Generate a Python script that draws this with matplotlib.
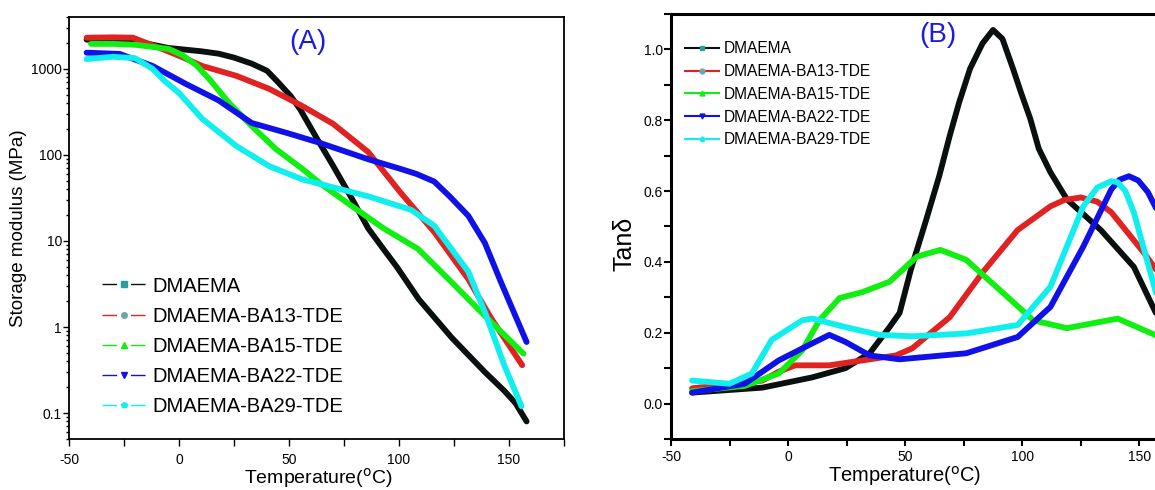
import numpy as np
import matplotlib
matplotlib.use("Agg")
import matplotlib.pyplot as plt
from matplotlib.lines import Line2D
from matplotlib.ticker import MultipleLocator, FixedLocator, FuncFormatter, LogLocator

plt.rcParams['font.family'] = ['Liberation Sans Narrow', 'Liberation Sans', 'DejaVu Sans']
plt.rcParams['axes.unicode_minus'] = False

names = ['DMAEMA', 'DMAEMA-BA13-TDE', 'DMAEMA-BA15-TDE', 'DMAEMA-BA22-TDE', 'DMAEMA-BA29-TDE']
colors = ['#0a0f0f', '#e02222', '#11ee11', '#1010e8', '#11eeee']
mk_left = ['s', 'o', '^', 'v', 'p']
mk_face = ['#2a9d9d', '#6fa5a5', '#11ee11', '#1010e8', '#11eeee']

# (A) storage modulus, MPa
t_dm = [-42, -30, -20, -5, 10, 18, 25, 33, 40, 45, 50.7, 55, 63, 70, 78, 86, 93, 99, 109, 124, 139, 148, 153, 158]
e_dm = [2180, 2150, 2100, 1750, 1600, 1500, 1350, 1150, 950, 700, 485, 340, 150, 75, 33, 14, 8, 5.0, 2.1, 0.75, 0.30, 0.18, 0.13, 0.08]
t_13 = [-42, -30, -21, -7.6, 2, 10.5, 26, 41, 56, 70, 86, 100.5, 116, 131.5, 142, 156]
e_13 = [2300, 2320, 2300, 1700, 1350, 1080, 830, 585, 370, 230, 108, 37, 12.7, 3.6, 1.25, 0.36]
t_15 = [-40, -30, -19.6, -4.6, 1.4, 7.9, 13.7, 22.8, 33, 44, 56, 64, 78, 93, 108.6, 124, 139, 156.6]
e_15 = [1950, 1950, 1900, 1700, 1450, 1100, 765, 400, 217, 117, 69, 47, 26, 14, 8.1, 3.3, 1.35, 0.49]
t_22 = [-42, -27, -12, 3, 18, 33, 49, 64, 86, 100.5, 108, 116, 123, 131.5, 139, 146.6, 158]
e_22 = [1540, 1490, 1080, 670, 430, 235, 180, 138, 89, 69, 60, 49, 33, 19.6, 9.5, 3.2, 0.67]
t_29 = [-42, -30, -20, -12, -6.6, 0, 10.5, 26, 41, 56, 64, 86, 105.5, 116, 131.5, 139, 148, 155.7]
e_29 = [1300, 1380, 1330, 1000, 725, 525, 263, 127, 74, 52, 46, 33, 23, 15, 4.4, 1.5, 0.35, 0.12]

# (B) tan delta
s_dm = [-41, -11, 10.3, 24.5, 34.8, 43.3, 47.6, 52.4, 59, 64.5, 69, 73, 77.7, 83, 87.5, 91.5, 96, 99.6, 103.4, 107, 112, 119, 133.5, 147.6, 157]
d_dm = [0.031, 0.045, 0.074, 0.10, 0.142, 0.216, 0.256, 0.378, 0.52, 0.642, 0.756, 0.85, 0.946, 1.017, 1.055, 1.03, 0.946, 0.875, 0.804, 0.72, 0.653, 0.577, 0.49, 0.386, 0.256]
s_13 = [-41, -11, -4, 3, 17.6, 31.8, 46, 53, 69, 83, 98, 112, 118, 125, 132, 138, 152, 158]
d_13 = [0.043, 0.065, 0.09, 0.108, 0.108, 0.122, 0.136, 0.156, 0.244, 0.37, 0.49, 0.557, 0.575, 0.582, 0.57, 0.54, 0.425, 0.37]
s_15 = [-41, -18.5, -4, 6, 13.3, 22, 31.8, 43.3, 55, 65, 76, 90.5, 104.7, 119, 140.7, 158]
d_15 = [0.035, 0.05, 0.085, 0.15, 0.235, 0.298, 0.315, 0.344, 0.415, 0.434, 0.406, 0.32, 0.235, 0.213, 0.24, 0.19]
s_22 = [-41, -18.5, -4, 10.3, 17.6, 24.5, 34.8, 47.6, 76, 98, 112, 126, 138, 141.5, 145.5, 149.5, 153.6, 158]
d_22 = [0.031, 0.056, 0.122, 0.17, 0.194, 0.174, 0.136, 0.125, 0.142, 0.188, 0.273, 0.443, 0.605, 0.632, 0.642, 0.63, 0.597, 0.54]
s_29 = [-41, -25, -15.5, -7, 6, 10.3, 24.5, 39, 53, 76, 98, 112, 126, 132, 138, 140.7, 144, 147.6, 158]
d_29 = [0.065, 0.056, 0.085, 0.18, 0.235, 0.24, 0.216, 0.194, 0.19, 0.198, 0.222, 0.33, 0.557, 0.61, 0.628, 0.625, 0.6, 0.54, 0.29]

left_t = [t_dm, t_13, t_15, t_22, t_29]
left_e = [e_dm, e_13, e_15, e_22, e_29]
right_t = [s_dm, s_13, s_15, s_22, s_29]
right_d = [d_dm, d_13, d_15, d_22, d_29]

fig = plt.figure(figsize=(11.55, 4.9), dpi=100)
W, H = 1155, 490
ax1 = fig.add_axes([69 / W, 51 / H, 495 / W, 422 / H])
ax2 = fig.add_axes([671 / W, 51 / H, 527 / W, 425 / H])

for i in range(5):
    ax1.plot(left_t[i], left_e[i], color=colors[i], lw=4.2, solid_joinstyle='round', solid_capstyle='round')
    ax2.plot(right_t[i], right_d[i], color=colors[i], lw=4.2, solid_joinstyle='round', solid_capstyle='round')

# panel A axes
ax1.set_yscale('log')
ax1.set_xlim(-50, 175)
ax1.set_ylim(0.05, 4000)
ax1.xaxis.set_major_locator(FixedLocator([-50, 0, 50, 100, 150]))
ax1.xaxis.set_minor_locator(FixedLocator([-25, 25, 75, 125, 175]))
ax1.yaxis.set_major_locator(LogLocator(base=10, numticks=10))
ax1.yaxis.set_minor_locator(LogLocator(base=10, subs=np.arange(2, 10), numticks=10))
ax1.yaxis.set_major_formatter(FuncFormatter(lambda v, p: '%g' % v))
ax1.tick_params(which='both', direction='out', labelsize=10, width=1)
ax1.tick_params(axis='x', which='major', length=5, pad=5)
ax1.tick_params(axis='x', which='minor', length=5)
ax1.tick_params(axis='y', which='major', length=4, pad=1)
ax1.tick_params(axis='y', which='minor', length=2)
for sp in ax1.spines.values():
    sp.set_linewidth(1.3)
ax1.set_xlabel('Temperature($^{\\rm o}$C)', fontsize=14)
ax1.xaxis.set_label_coords(0.503, -0.064)
ax1.set_ylabel('Storage modulus (MPa)', fontsize=13.5)
ax1.yaxis.set_label_coords(-0.085, 0.5)
ax1.text(0.483, 0.94, '(A)', transform=ax1.transAxes, color='#1a1ae0', fontsize=20, ha='center', va='center')

hd1 = [Line2D([], [], color=colors[i], lw=1, linestyle=(0, (10.5, 10)), marker=mk_left[i],
              markersize=4, markerfacecolor=mk_face[i], markeredgecolor=mk_face[i]) for i in range(5)]
ax1.legend(hd1, names, loc='center left', bbox_to_anchor=(0.067, 0.22), frameon=False, fontsize=14.5,
           handlelength=2.2, handletextpad=0.3, labelspacing=0.55, borderpad=0, borderaxespad=0,
           numpoints=1)

# panel B axes
ax2.set_xlim(-50, 175)
ax2.set_ylim(-0.1, 1.1)
ax2.xaxis.set_major_locator(FixedLocator([-50, 0, 50, 100, 150]))
ax2.xaxis.set_minor_locator(FixedLocator([-25, 25, 75, 125, 175]))
ax2.yaxis.set_major_locator(FixedLocator([0.0, 0.2, 0.4, 0.6, 0.8, 1.0]))
ax2.yaxis.set_minor_locator(MultipleLocator(0.1))
ax2.yaxis.set_major_formatter(FuncFormatter(lambda v, p: '%.1f' % v))
ax2.tick_params(which='both', direction='out', labelsize=10, width=1.5)
ax2.tick_params(axis='x', which='both', length=5, pad=3)
ax2.tick_params(axis='y', which='both', length=5, pad=1)
for sp in ax2.spines.values():
    sp.set_linewidth(2.2)
ax2.set_xlabel('Temperature($^{\\rm o}$C)', fontsize=14.5)
ax2.xaxis.set_label_coords(0.444, -0.058)
ax2.set_ylabel('Tan\u03b4', fontsize=18)
ax2.yaxis.set_label_coords(-0.065, 0.46)
ax2.text(0.507, 0.95, '(B)', transform=ax2.transAxes, color='#1a1ae0', fontsize=20, ha='center', va='center')

hd2 = [Line2D([], [], color=colors[i], lw=1.5, marker=mk_left[i], markersize=3.5,
              markerfacecolor=mk_face[i], markeredgecolor=mk_face[i]) for i in range(5)]
ax2.legend(hd2, names, loc='upper left', bbox_to_anchor=(0.027, 0.936), frameon=False, fontsize=11.2,
           handlelength=2.2, handletextpad=0.3, labelspacing=0.5, borderpad=0, borderaxespad=0,
           numpoints=1)

fig.savefig('out.png', dpi=100)
